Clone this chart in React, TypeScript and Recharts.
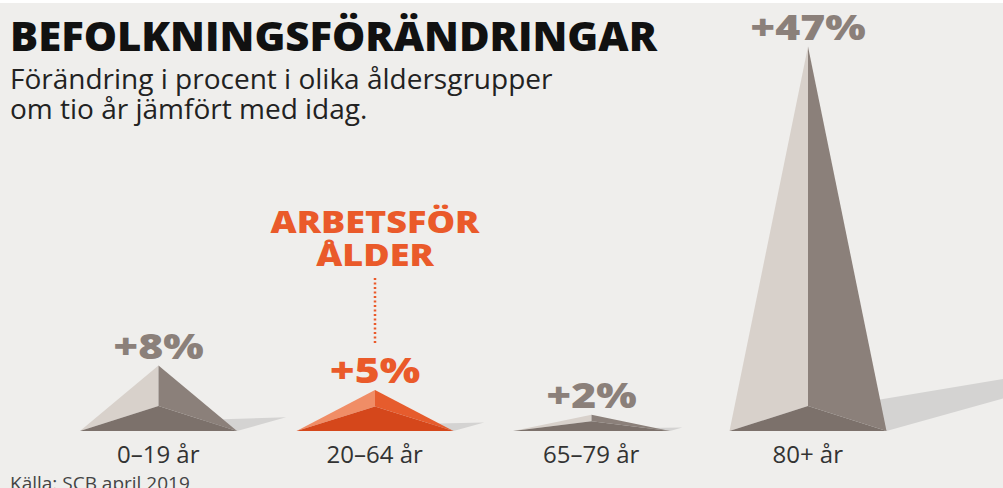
import React from 'react';
import { BarChart, Bar, XAxis, YAxis } from 'recharts';

// Data
const ageGroups = ['0–19 år', '20–64 år', '65–79 år', '80+ år'];
const changePct = [8, 5, 2, 47];
const highlightGroup = '20–64 år';
const highlightNote = ['ARBETSFÖR', 'ÅLDER'];

const data = ageGroups.map((group, i) => ({ group, change: changePct[i] }));

const W = 1003;
const H = 488;
const FONT = '"Open Sans", "DejaVu Sans", sans-serif';

const GRAY = { left: '#d8d1cb', right: '#8b807a', front: '#7c716b', text: '#8b807a' };
const ORANGE = { left: '#f08d66', right: '#e65c2d', front: '#d5471b', text: '#ea5a2a' };
const SHADOW = '#d4d3d2';

const Pyramid = (props: any) => {
  const { x, y, width, height } = props;
  const entry = props.payload ?? props;
  const hot = entry.group === highlightGroup;
  const c = hot ? ORANGE : GRAY;
  const cx = x + width / 2;
  const base = y + height;
  const xl = x;
  const xr = x + width;
  const depth = Math.min(25, height * 0.6);
  const sx = cx + width * 0.25;
  const sy = base - Math.min(height * 0.17, 26);
  const tx = xr + height * 0.75;
  const ty = base - height * 0.21;
  const pts = (arr: number[][]) => arr.map((p) => p.join(',')).join(' ');

  return (
    <g>
      <polygon points={pts([[sx, sy], [tx, ty], [xr, base]])} fill={SHADOW} />
      <polygon points={pts([[xl, base], [cx, y], [cx, base - depth]])} fill={c.left} />
      <polygon points={pts([[cx, y], [xr, base], [cx, base - depth]])} fill={c.right} />
      <polygon points={pts([[xl, base], [xr, base], [cx, base - depth]])} fill={c.front} />
      <text
        transform={`translate(${cx},${y - 7}) scale(1.22,1)`}
        textAnchor="middle"
        fontFamily={FONT}
        fontWeight={800}
        fontSize={35}
        fill={c.text}
      >
        {`+${entry.change}%`}
      </text>
      {hot && (
        <g>
          {highlightNote.map((line, i) => (
            <text
              key={line}
              transform={`translate(${cx},${y - 157 + i * 33}) scale(1.2,1)`}
              textAnchor="middle"
              fontFamily={FONT}
              fontWeight={800}
              fontSize={30}
              fill={ORANGE.text}
            >
              {line}
            </text>
          ))}
          <line
            x1={cx}
            x2={cx}
            y1={y - 112}
            y2={y - 46}
            stroke={ORANGE.text}
            strokeWidth={2.5}
            strokeDasharray="2 2.5"
          />
        </g>
      )}
    </g>
  );
};

const AgeTick = (props: any) => {
  const { x, y, payload } = props;
  return (
    <text x={x} y={y} dy={24} textAnchor="middle" fontFamily={FONT} fontSize={24} fill="#333">
      {payload.value}
    </text>
  );
};

export default function App() {
  return (
    <div
      style={{
        position: 'absolute',
        left: 0,
        top: 0,
        width: W,
        height: H,
        overflow: 'hidden',
        background: 'linear-gradient(#ffffff 0px, #ffffff 3px, #efeeec 3px)',
      }}
    >
      <BarChart
        width={W}
        height={H}
        data={data}
        margin={{ top: 22, right: 87, left: 50, bottom: 0 }}
        barCategoryGap={0}
      >
        <YAxis hide domain={[0, 50]} />
        <XAxis
          dataKey="group"
          height={57}
          axisLine={false}
          tickLine={false}
          interval={0}
          tick={<AgeTick />}
        />
        <Bar dataKey="change" barSize={157} shape={<Pyramid />} isAnimationActive={false} />
      </BarChart>
      <svg
        width={W}
        height={H}
        style={{ position: 'absolute', left: 0, top: 0, pointerEvents: 'none' }}
      >
        <text x={10} y={51} fontFamily={FONT} fontWeight={800} fontSize={41} fill="#111" textLength={647} lengthAdjust="spacingAndGlyphs">
          BEFOLKNINGSFÖRÄNDRINGAR
        </text>
        <text x={10} y={89} fontFamily={FONT} fontSize={28} fill="#222">
          Förändring i procent i olika åldersgrupper
        </text>
        <text x={10} y={119} fontFamily={FONT} fontSize={28} fill="#222">
          om tio år jämfört med idag.
        </text>
        <text x={10} y={490} fontFamily={FONT} fontSize={19} fill="#444">
          Källa: SCB april 2019
        </text>
      </svg>
    </div>
  );
}
